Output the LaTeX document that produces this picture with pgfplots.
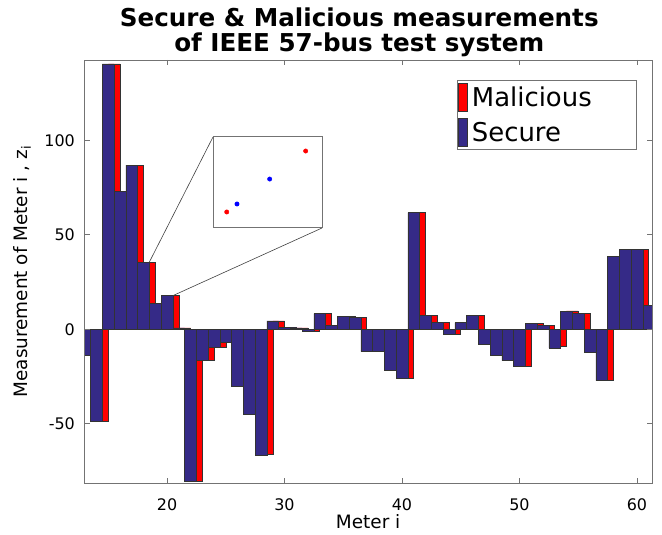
\documentclass[border=0pt]{standalone}
\usepackage{fontspec}
\setmainfont{DejaVu Sans}
\usepackage{pgfplots}
\usepackage{pgfplotstable}
\pgfplotsset{compat=1.18}

\definecolor{secblue}{rgb}{0.208,0.165,0.529}
\definecolor{malred}{rgb}{1,0,0}
\definecolor{axgray}{gray}{0.45}
\definecolor{edgegray}{gray}{0.2}

% measurement of each meter: secure value and value under attack
\pgfplotstableread{
meter sec mal
13 -13.5 -13.5
14 -48.5 -48.5
15 140.4 140.4
16 72.8 72.8
17 86.9 86.9
18 35.6 35.6
19 13.9 13.9
20 17.8 17.8
21 0.8 0.8
22 -80.4 -80.4
23 -16.6 -16.6
24 -9.7 -9.7
25 -6.9 -6.9
26 -30.0 -30.0
27 -45.0 -45.0
28 -66.9 -66.0
29 4.4 4.4
30 0.9 0.9
31 0.8 0.8
32 -1.0 -1.2
33 8.3 8.3
34 1.9 1.9
35 6.9 6.9
36 6.3 6.3
37 -11.8 -11.8
38 -11.8 -11.8
39 -21.5 -21.5
40 -25.9 -25.9
41 61.7 61.7
42 7.2 7.2
43 3.5 3.5
44 -2.5 -2.5
45 3.5 3.5
46 7.2 7.2
47 -7.8 -7.8
48 -13.9 -13.9
49 -16.6 -16.6
50 -19.8 -19.8
51 3.0 3.0
52 2.1 2.1
53 -9.9 -9.2
54 9.5 9.8
55 8.5 8.5
56 -12.4 -12.4
57 -27.2 -27.2
58 38.6 38.6
59 42.3 42.3
60 42.3 42.3
61 12.7 12.7
}\meterdata

\begin{document}
\begin{tikzpicture}
\path[use as bounding box] (-84.3bp,-51.7bp) rectangle (577.7bp,483.3bp);
\begin{axis}[
  name=main,
  at={(0,0)}, anchor=south west,
  width=567.7bp, height=423.3bp, scale only axis,
  xmin=12.96, xmax=61.28, ymin=-81.5, ymax=142.5,
  ybar, bar width=1,
  xtick={20,30,40,50,60}, ytick={-50,0,50,100},
  tick align=inside, major tick length=5.5bp,
  axis line style={axgray, line width=0.8bp},
  every tick/.style={axgray, line width=0.8bp},
  axis on top,
  tick label style={font=\fontsize{16}{19}\selectfont, /pgf/number format/assume math mode=true},
  xticklabel style={anchor=base, inner sep=0pt, yshift=-26.7bp},
  yticklabel style={anchor=east, inner sep=0pt, xshift=-9.3bp},
  xlabel={Meter i},
  ylabel={Measurement of Meter i , z\textsubscript{i}},
  label style={font=\fontsize{18.5}{22}\selectfont},
  xlabel style={at={(axis description cs:0.5,0)}, anchor=base, yshift=-44.7bp, inner sep=0pt},
  ylabel style={at={(axis description cs:-0.1097,0.5)}, anchor=center, inner sep=0pt},
  legend style={at={(0.656,0.9527)}, anchor=north west, draw=axgray, line width=0.8bp,
    fill=white, inner xsep=1.3bp, inner ysep=3bp, row sep=6bp, column sep=2bp,
    font=\fontsize{26}{30}\selectfont},
  legend cell align=left,
  legend image code/.code={\draw[#1] (0bp,-14bp) rectangle (9bp,14bp);},
]
\addplot[fill=malred, draw=edgegray, line width=0.5bp, bar shift=0.5]
  table[x=meter, y=mal]{\meterdata};
\addlegendentry{\makebox[161bp][l]{Malicious}}
\addplot[fill=secblue, draw=edgegray, line width=0.5bp, bar shift=0]
  table[x=meter, y=sec]{\meterdata};
\addlegendentry{\makebox[161bp][l]{Secure}}
\coordinate (srcA) at (axis cs:18.5,35.6);
\coordinate (srcB) at (axis cs:20.5,17.8);
\end{axis}

% magnified view of meters 18 to 20
\begin{axis}[
  name=inset,
  at={(128.7bp,255.3bp)}, anchor=south west,
  width=109bp, height=91bp, scale only axis,
  xmin=0, xmax=1, ymin=0, ymax=1,
  ticks=none,
  axis line style={axgray, line width=1bp},
  axis background/.style={fill=white},
]
\addplot[only marks, mark=*, mark size=2.2bp, color=red] coordinates {(0.126,0.176) (0.85,0.846)};
\addplot[only marks, mark=*, mark size=2.2bp, color=blue] coordinates {(0.22,0.264) (0.52,0.538)};
\end{axis}
\draw[black!75, line width=0.6bp] (inset.north west) -- (srcA);
\draw[black!75, line width=0.6bp] (inset.south east) -- (srcB);

\node[font=\bfseries\fontsize{24.7}{30}\selectfont, anchor=base] at (275bp,456.3bp) {Secure \& Malicious measurements};
\node[font=\bfseries\fontsize{24.7}{30}\selectfont, anchor=base] at (275bp,431.3bp) {of IEEE 57-bus test system};
\end{tikzpicture}
\end{document}
